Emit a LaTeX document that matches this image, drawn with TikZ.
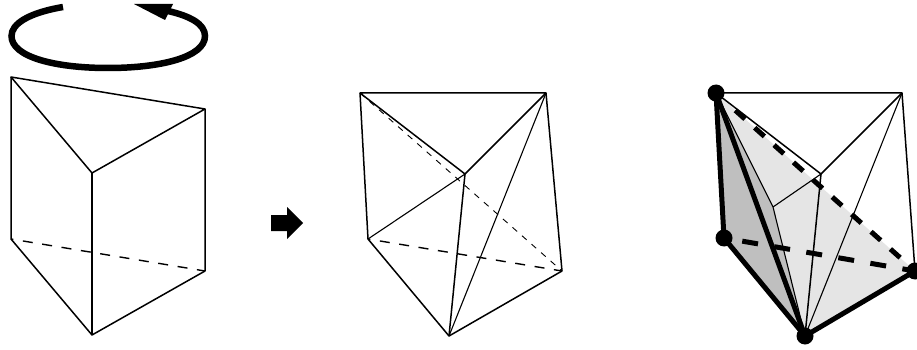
\documentclass[tikz,border=0pt]{standalone}
\usepackage{xcolor}
\usepackage{tikz}
\usetikzlibrary{positioning, shapes, arrows}
\definecolor{lightface}{gray}{0.90}
\definecolor{darkface}{gray}{0.75}
\tikzset{
  edge/.style={draw, line width=1.5pt, line join=round},
  thinedge/.style={draw, line width=1.1pt},
  hidden/.style={draw, line width=1.4pt, dash pattern=on 10pt off 9.6pt, dash phase=7.6pt},
  thindash/.style={draw, line width=0.9pt, dash pattern=on 6.2pt off 6.5pt},
  heavy/.style={draw, line width=5pt},
  heavydash/.style={draw, line width=5pt},
  vertex/.style={circle, fill=black, inner sep=0pt, minimum size=17pt}
}
\begin{document}
\begin{tikzpicture}[x=1pt, y=-1pt]
  \useasboundingbox (0,0) rectangle (917,350);

  % rotation
  \coordinate (turnstart) at (63,7);
  \coordinate (turnend) at (168,11);
  \draw [line width=6.5pt] (turnstart) .. controls (28,13) and (11.5,24) .. (11.5,36)
    .. controls (11.5,57) and (55,68) .. (108,68)
    .. controls (161,68) and (205,57) .. (205,36)
    .. controls (205,24) and (190,16) .. (turnend);
  \coordinate (headtip) at (134,4);
  \coordinate (headtop) at (173,4);
  \coordinate (headlow) at (165,20);
  \fill (headtip) -- (headtop) -- (headlow) -- cycle;

  % prism
  \coordinate (a1) at (11,77);
  \coordinate (b1) at (205,109);
  \coordinate (c1) at (92,173);
  \coordinate (d1) at (11,239);
  \coordinate (e1) at (205,271);
  \coordinate (f1) at (92,335);
  \path [edge] (a1) -- (b1) -- (c1) -- cycle;
  \path [edge] (a1) -- (d1) -- (f1) -- (e1) -- (b1);
  \path [edge] (c1) -- (f1);
  \path [hidden] (d1) -- (e1);

  % step arrow
  \coordinate (s1) at (271,215);
  \coordinate (s2) at (287,215);
  \coordinate (s3) at (287,207);
  \coordinate (s4) at (303,223);
  \coordinate (s5) at (287,239);
  \coordinate (s6) at (287,231);
  \coordinate (s7) at (271,231);
  \fill (s1) -- (s2) -- (s3) -- (s4) -- (s5) -- (s6) -- (s7) -- cycle;

  % cut prism
  \coordinate (a2) at (360,93);
  \coordinate (b2) at (546,93);
  \coordinate (c2) at (465,174);
  \coordinate (d2) at (368,239);
  \coordinate (e2) at (562,271);
  \coordinate (f2) at (449,336);
  \path [edge] (a2) -- (b2) -- (c2) -- cycle;
  \path [edge] (a2) -- (d2) -- (f2) -- (e2) -- (b2);
  \path [edge] (c2) -- (f2);
  \path [thinedge] (c2) -- (d2);
  \path [thinedge] (b2) -- (f2);
  \path [hidden] (d2) -- (e2);
  \path [thindash] (a2) -- (e2);

  % tetrahedron inside
  \coordinate (a3) at (716,93);
  \coordinate (b3) at (902,93);
  \coordinate (c3) at (821,174);
  \coordinate (d3) at (724,238);
  \coordinate (e3) at (915,271);
  \coordinate (f3) at (805,336);
  \coordinate (g3) at (773,207);
  \coordinate (p3) at (735.3,110.4);
  \fill [lightface] (a3) -- (e3) -- (f3) -- (g3) -- cycle;
  \fill [darkface] (a3) -- (g3) -- (f3) -- (d3) -- cycle;
  \path [edge] (a3) -- (b3) -- (e3);
  \path [edge] (a3) -- (c3) -- (b3);
  \path [edge] (c3) -- (f3);
  \path [thinedge] (b3) -- (f3);
  \path [thinedge] (c3) -- (g3);
  \path [thinedge] (a3) -- (g3) -- (f3);
  \path [heavy] (a3) -- (d3) -- (f3) -- (e3);
  \path [heavy] (a3) -- (f3);
  \path [heavydash, dash pattern=on 16pt off 16.5pt, dash phase=14pt] (d3) -- (e3);
  \path [heavydash, dash pattern=on 13pt off 13pt] (p3) -- (e3);
  \node (va) [vertex] at (a3) {};
  \node (vd) [vertex] at (d3) {};
  \node (ve) [vertex] at (e3) {};
  \node (vf) [vertex] at (f3) {};
\end{tikzpicture}
\end{document}
